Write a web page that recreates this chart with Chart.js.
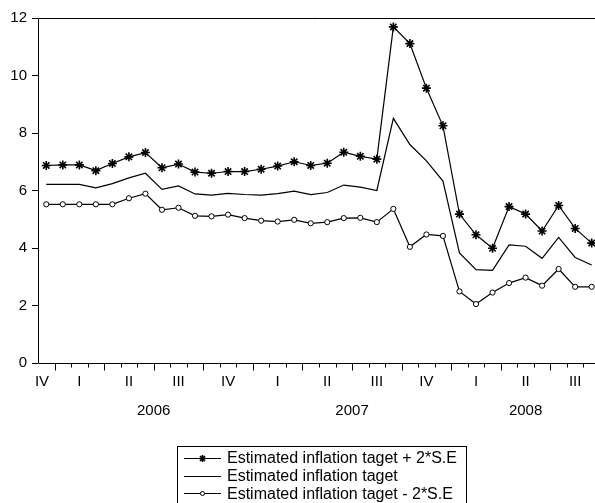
<!DOCTYPE html>
<html>
<head>
<meta charset="utf-8">
<script src="https://cdn.jsdelivr.net/npm/chart.js@4.4.1/dist/chart.umd.min.js"></script>
<style>
  html, body { margin: 0; padding: 0; background: #fff; }
</style>
</head>
<body>
<canvas id="chart" width="595" height="503"></canvas>
<script>
// monthly observations, Dec 2005 .. Sep 2008
const months = [
    "2005M12",
    "2006M01", "2006M02", "2006M03", "2006M04", "2006M05", "2006M06",
    "2006M07", "2006M08", "2006M09", "2006M10", "2006M11", "2006M12",
    "2007M01", "2007M02", "2007M03", "2007M04", "2007M05", "2007M06",
    "2007M07", "2007M08", "2007M09", "2007M10", "2007M11", "2007M12",
    "2008M01", "2008M02", "2008M03", "2008M04", "2008M05", "2008M06",
    "2008M07", "2008M08", "2008M09"
];
const upper = [6.87, 6.89, 6.89, 6.69, 6.94, 7.17, 7.32, 6.79, 6.92, 6.64, 6.60, 6.66,
    6.66, 6.74, 6.85, 7.00, 6.87, 6.95, 7.33, 7.19, 7.09, 11.69, 11.11, 9.56,
    8.25, 5.18, 4.46, 3.99, 5.44, 5.18, 4.59, 5.48, 4.68, 4.17];
const target = [6.21, 6.21, 6.21, 6.09, 6.24, 6.44, 6.60, 6.04, 6.16, 5.88, 5.84, 5.90,
    5.86, 5.84, 5.89, 5.98, 5.86, 5.93, 6.19, 6.12, 6.00, 8.51, 7.60, 7.03,
    6.33, 3.83, 3.25, 3.22, 4.11, 4.06, 3.64, 4.37, 3.67, 3.41];
const lower = [5.52, 5.52, 5.52, 5.52, 5.52, 5.73, 5.89, 5.33, 5.40, 5.12, 5.10, 5.16,
    5.04, 4.95, 4.92, 4.98, 4.86, 4.90, 5.04, 5.05, 4.90, 5.36, 4.04, 4.47,
    4.42, 2.49, 2.05, 2.45, 2.78, 2.97, 2.69, 3.27, 2.65, 2.65];
const quarterNames = ["I", "II", "III", "IV"];
const seriesNames = [
    "Estimated inflation taget + 2*S.E",
    "Estimated inflation taget",
    "Estimated inflation taget - 2*S.E"
];

const FONT = "'Liberation Sans', Arial, sans-serif";

const pts = arr => arr.map((v, i) => ({ x: i, y: v }));
const monthNo = i => +months[i].slice(5);
const yearOf = i => months[i].slice(0, 4);

// eviews style date axis, frame and boxed legend
const eviewsDecor = {
    id: "eviewsDecor",
    afterDraw(chart) {
        const { ctx, chartArea: a, scales: { x } } = chart;
        ctx.save();
        ctx.strokeStyle = "#000";
        ctx.lineWidth = 1;

        // frame (right side runs off the canvas)
        ctx.beginPath();
        ctx.moveTo(a.right + 2, Math.round(a.top) + 0.5);
        ctx.lineTo(Math.round(a.left) + 0.5, Math.round(a.top) + 0.5);
        ctx.lineTo(Math.round(a.left) + 0.5, Math.round(a.bottom) + 0.5);
        ctx.lineTo(a.right + 2, Math.round(a.bottom) + 0.5);
        ctx.stroke();

        // month ticks, longer at quarter starts
        const yb = Math.round(a.bottom) + 0.5;
        ctx.beginPath();
        for (let i = 0; i < months.length - 1; i++) {
            const px = Math.round(x.getPixelForValue(i + 0.5)) + 0.5;
            if (px > a.right) break;
            const qStart = (monthNo(i + 1) - 1) % 3 === 0;
            ctx.moveTo(px, yb);
            ctx.lineTo(px, yb + (qStart ? 7 : 4));
        }
        ctx.stroke();

        // quarter labels
        ctx.fillStyle = "#000";
        ctx.font = "15px " + FONT;
        ctx.textAlign = "center";
        ctx.textBaseline = "middle";
        for (let i = 0; i < months.length; i++) {
            const m = monthNo(i);
            if (i !== 0 && (m - 1) % 3 !== 0) continue;
            const mid = i - ((m - 1) % 3) + 1;
            const px = Math.max(x.getPixelForValue(mid), a.left + 4);
            ctx.fillText(quarterNames[Math.ceil(m / 3) - 1], px, a.bottom + 19);
        }

        // year labels
        const years = [...new Set(months.map((_, i) => yearOf(i)))];
        years.forEach(y => {
            const idx = months.map((_, i) => i).filter(i => yearOf(i) === y);
            if (idx.length < 3) return;
            const c = (idx[0] + idx[idx.length - 1]) / 2;
            ctx.fillText(y, x.getPixelForValue(c), a.bottom + 48);
        });

        // legend box
        const bx = 177.5, by = 446.5, bw = 289, bh = 62;
        ctx.strokeRect(bx, by, bw, bh);
        ctx.font = "16px " + FONT;
        ctx.textAlign = "left";
        chart.data.datasets.forEach((ds, k) => {
            const ry = 458 + k * 17.6;
            ctx.strokeStyle = "#000";
            ctx.lineWidth = 1;
            ctx.beginPath();
            ctx.moveTo(184, Math.round(ry) + 0.5);
            ctx.lineTo(221, Math.round(ry) + 0.5);
            ctx.stroke();
            if (ds.pointRadius > 0) {
                ctx.fillStyle = ds.pointBackgroundColor;
                ctx.strokeStyle = ds.pointBorderColor;
                ctx.lineWidth = ds.pointBorderWidth;
                Chart.helpers.drawPoint(ctx, {
                    pointStyle: ds.pointStyle,
                    radius: ds.pointStyle === "star" ? 3.5 : 2,
                    borderWidth: ds.pointBorderWidth,
                    rotation: 0
                }, 202.5, Math.round(ry) + 0.5);
            }
            ctx.fillStyle = "#000";
            ctx.fillText(ds.label, 227, ry + 1);
        });
        ctx.restore();
    }
};

new Chart(document.getElementById("chart"), {
    type: "line",
    data: {
        datasets: [
            {
                label: seriesNames[0],
                data: pts(upper),
                borderColor: "#000",
                borderWidth: 1.2,
                pointStyle: "star",
                pointRadius: 4.5,
                pointBorderWidth: 1.6,
                pointBorderColor: "#000",
                pointBackgroundColor: "#000",
                tension: 0
            },
            {
                label: seriesNames[1],
                data: pts(target),
                borderColor: "#000",
                borderWidth: 1.2,
                pointRadius: 0,
                tension: 0
            },
            {
                label: seriesNames[2],
                data: pts(lower),
                borderColor: "#000",
                borderWidth: 1.2,
                pointStyle: "circle",
                pointRadius: 2.6,
                pointBorderWidth: 1,
                pointBorderColor: "#000",
                pointBackgroundColor: "#fff",
                tension: 0
            }
        ]
    },
    options: {
        responsive: false,
        animation: false,
        layout: { autoPadding: false, padding: { top: 18, right: 0, bottom: 140, left: 0 } },
        plugins: {
            legend: { display: false },
            tooltip: { enabled: false }
        },
        scales: {
            x: { type: "linear", display: false, min: -0.5, max: 33.2 },
            y: {
                min: 0,
                max: 12,
                ticks: { stepSize: 2, color: "#000", padding: 5, font: { family: FONT, size: 15 } },
                grid: { drawOnChartArea: false, drawTicks: true, tickLength: 6, color: "#000" },
                border: { display: false },
                afterFit(s) { s.width = 38; }
            }
        }
    },
    plugins: [eviewsDecor]
});
</script>
</body>
</html>
